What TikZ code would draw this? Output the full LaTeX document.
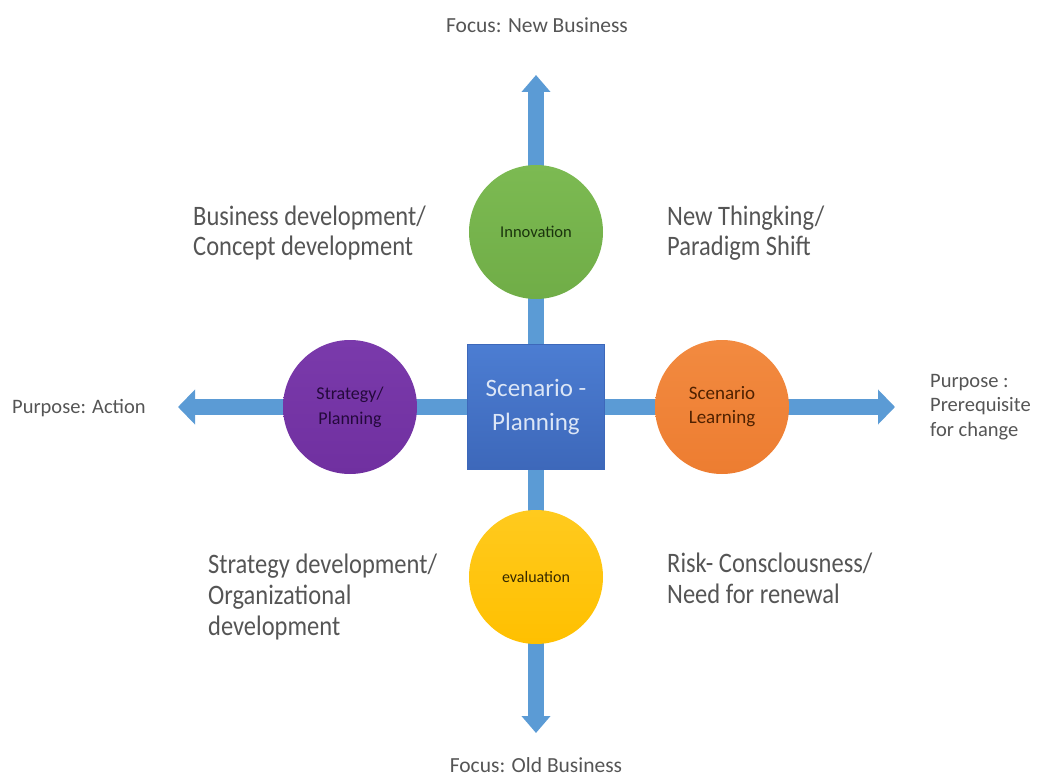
\documentclass[tikz,border=0pt]{standalone}
\usepackage{fontspec}
\usepackage{graphicx}
\setmainfont{Carlito}
\usetikzlibrary{arrows.meta,backgrounds}
\newcommand\tallline[1]{\scalebox{1}[1.15]{#1}}
\definecolor{arrowblue}{HTML}{5B9BD5}
\definecolor{sqtop}{HTML}{4C7DD2}
\definecolor{sqbot}{HTML}{3D68BA}
\definecolor{sqtext}{HTML}{DCE6F6}
\definecolor{labelgrey}{HTML}{555555}
\definecolor{cgreen}{HTML}{70AD47}
\definecolor{cgreentop}{HTML}{7CBA52}
\definecolor{cpurple}{HTML}{7030A0}
\definecolor{cpurpletop}{HTML}{7A3AAB}
\definecolor{corange}{HTML}{ED7D31}
\definecolor{corangetop}{HTML}{F28A40}
\definecolor{cyellow}{HTML}{FFC000}
\definecolor{cyellowtop}{HTML}{FFCA1E}
\definecolor{tgreen}{HTML}{1A330D}
\definecolor{tpurple}{HTML}{24093B}
\definecolor{torange}{HTML}{4F2100}
\definecolor{tyellow}{HTML}{352800}
\begin{document}
\begin{tikzpicture}[x=1pt,y=-1pt,
  bigarrow/.style={draw=arrowblue, line width=16pt},
  vtip/.style={-{Triangle[width=28pt,length=17pt]}},
  htip/.style={-{Triangle[width=34pt,length=17pt]}},
  ball/.style={circle, minimum size=134pt, inner sep=0pt, align=center},
  sqbox/.style={rectangle, minimum width=137pt, minimum height=125pt, inner sep=0pt,
    top color=sqtop, bottom color=sqbot, draw=sqbot, line width=0.6pt,
    text=sqtext, align=center, font=\fontsize{25}{34}\selectfont},
  biglbl/.style={inner sep=0pt, text=labelgrey, align=left,
    font=\fontsize{24.5}{31}\selectfont},
  smalllbl/.style={inner sep=0pt, text=labelgrey, align=left, font=\fontsize{20.5}{24.5}\selectfont},
  focuslbl/.style={inner sep=0pt, text=labelgrey, font=\fontsize{21.5}{26}\selectfont}
]
\useasboundingbox (0,0) rectangle (1042,778);

% central square
\node[sqbox] (sq) at (536,407) {Scenario -\\Planning};

% circles
\node[ball, top color=cgreentop, bottom color=cgreen, text=tgreen,
      font=\fontsize{16.5}{20}\selectfont] (inno) at (536,232) {Innovation};
\node[ball, top color=cpurpletop, bottom color=cpurple, text=tpurple,
      font=\fontsize{18}{25}\selectfont] (strat) at (350,407) {Strategy/\\Planning};
\node[ball, top color=corangetop, bottom color=corange, text=torange,
      font=\fontsize{19}{24}\selectfont] (learn) at (722,407) {Scenario\\Learning};
\node[ball, top color=cyellowtop, bottom color=cyellow, text=tyellow,
      font=\fontsize{16}{20}\selectfont] (eval) at (536,577) {evaluation};

% arrow tips
\coordinate (tipN) at (536,75);
\coordinate (tipS) at (536,733);
\coordinate (tipW) at (178,407);
\coordinate (tipE) at (895,407);

\begin{scope}[on background layer]
  \draw[bigarrow, vtip] (sq) -- (tipN);
  \draw[bigarrow, vtip] (sq) -- (tipS);
  \draw[bigarrow, htip] (sq) -- (tipW);
  \draw[bigarrow, htip] (sq) -- (tipE);
\end{scope}

% labels (base anchor = baseline of the last line)
\node[focuslbl, anchor=base] (fnew) at (537,33) {Focus: New Business};
\node[focuslbl, anchor=base] (fold) at (536,772) {Focus: Old Business};
\node[smalllbl, anchor=base west] (pact) at (12,413) {Purpose: Action};
\node[smalllbl, anchor=base west] (pchg) at (930,436) {Purpose :\\Prerequisite\\for change};

\node[biglbl, anchor=base west] (bdev) at (193,256)
  {\tallline{Business development/}\\\tallline{Concept development}};
\node[biglbl, anchor=base west] (newt) at (667,256)
  {\tallline{New Thingking/}\\\tallline{Paradigm Shift}};
\node[biglbl, anchor=base west] (sdev) at (208,635)
  {\tallline{Strategy development/}\\\tallline{Organizational}\\\tallline{development}};
\node[biglbl, anchor=base west] (risk) at (667,603)
  {\tallline{Risk- Consclousness/}\\\tallline{Need for renewal}};
\end{tikzpicture}
\end{document}
